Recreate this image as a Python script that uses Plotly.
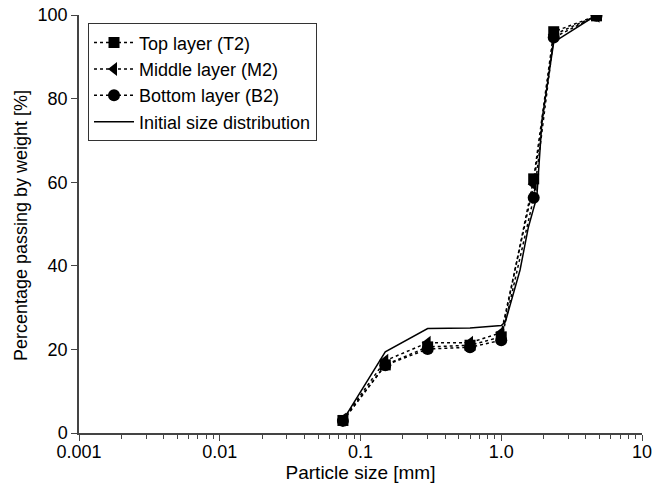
import plotly.graph_objects as go

# Sieve sizes [mm]
sizes = [0.075, 0.15, 0.3, 0.6, 1.0, 1.7, 2.36, 4.75]
top_t2 = [3.0, 16.3, 20.6, 21.0, 23.0, 60.8, 96.0, 99.8]
middle_m2 = [3.2, 17.3, 21.6, 21.6, 24.0, 59.5, 95.3, 99.8]
bottom_b2 = [2.9, 16.2, 20.1, 20.5, 22.2, 56.3, 94.6, 99.8]

init_sizes = [0.075, 0.15, 0.3, 0.6, 1.0, 1.07, 1.36, 1.56, 1.79, 1.95, 2.36, 4.75]
init_pass = [3.0, 19.4, 25.0, 25.1, 25.7, 26.6, 39.0, 49.3, 56.5, 75.0, 93.5, 100.0]

tick_vals = [0.001, 0.01, 0.1, 1.0, 10]
tick_text = ["0.001", "0.01", "0.1", "1.0", "10"]
y_ticks = [0, 20, 40, 60, 80, 100]
minor_vals = [m * d for d in [0.001, 0.01, 0.1, 1.0] for m in range(2, 10)]

FONT = "Liberation Sans, Arial, sans-serif"

fig = go.Figure()
fig.add_trace(go.Scatter(x=sizes, y=top_t2, mode="lines+markers", name="Top layer (T2)",
                         line=dict(color="black", width=1.5, dash="dot"),
                         marker=dict(symbol="square", size=11, color="black")))
fig.add_trace(go.Scatter(x=sizes, y=middle_m2, mode="lines+markers", name="Middle layer (M2)",
                         line=dict(color="black", width=1.5, dash="dot"),
                         marker=dict(symbol="triangle-left", size=12, color="black")))
fig.add_trace(go.Scatter(x=sizes, y=bottom_b2, mode="lines+markers", name="Bottom layer (B2)",
                         line=dict(color="black", width=1.5, dash="dot"),
                         marker=dict(symbol="circle", size=12, color="black")))
fig.add_trace(go.Scatter(x=init_sizes, y=init_pass, mode="lines", name="Initial size distribution",
                         line=dict(color="black", width=1.5)))

fig.update_layout(
    width=659, height=493,
    margin=dict(l=79, r=17, t=15, b=60),
    paper_bgcolor="white", plot_bgcolor="white",
    font=dict(family=FONT, size=18, color="black"),
    legend=dict(x=0.016, y=0.98, xanchor="left", yanchor="top",
                bordercolor="#333333", borderwidth=1, bgcolor="white",
                font=dict(family=FONT, size=18, color="black"),
                tracegroupgap=0, itemwidth=40),
    showlegend=True,
    annotations=[dict(text="Percentage passing by weight [%]", textangle=-90,
                      xref="paper", yref="paper", x=-0.103, y=0.495,
                      xanchor="center", yanchor="middle", showarrow=False,
                      font=dict(family=FONT, size=18, color="black"))],
)
fig.update_xaxes(
    type="log", range=[-3, 1], automargin=False,
    tickmode="array", tickvals=tick_vals, ticktext=tick_text,
    ticks="outside", ticklen=6, tickwidth=1, tickcolor="#444",
    showline=True, linecolor="#444", linewidth=1.5,
    showgrid=False, zeroline=False,
    minor=dict(tickmode="array", tickvals=minor_vals, ticks="outside", ticklen=4,
               tickwidth=1, tickcolor="#444", showgrid=False),
    title=dict(text="Particle size [mm]", standoff=2,
               font=dict(family=FONT, size=19, color="black")),
    tickfont=dict(size=18), ticklabelstandoff=-4, ticklabeloverflow="allow",
)
fig.update_yaxes(
    range=[0, 100], tickvals=y_ticks, automargin=False,
    ticks="outside", ticklen=6, tickwidth=1, tickcolor="#444",
    showline=True, linecolor="#444", linewidth=1.5,
    showgrid=False, zeroline=False,
    tickfont=dict(size=18), ticklabeloverflow="allow",
)

fig.write_html("out.html", config={"displayModeBar": False},
               post_script="document.body.style.margin='0';")
